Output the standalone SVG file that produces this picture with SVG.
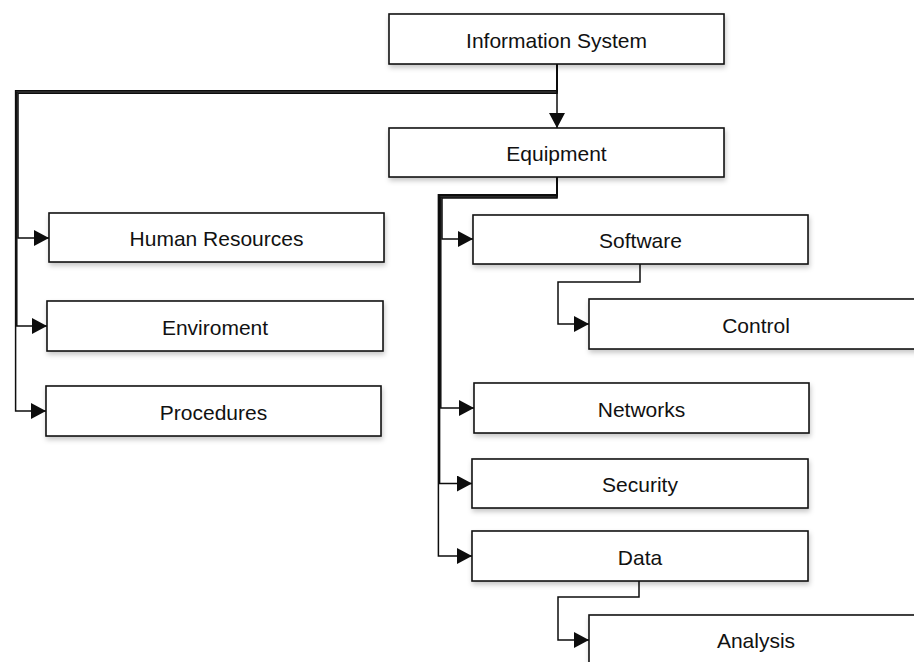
<svg xmlns="http://www.w3.org/2000/svg" width="914" height="662" viewBox="0 0 914 662">
  <style>
    .box { fill: #ffffff; stroke: #151515; stroke-width: 1.6; filter: url(#shadow); }
    .label { font-family: "Liberation Sans", Arial, Helvetica, sans-serif; font-size: 21px; fill: #111111; text-anchor: middle; }
    .link { fill: none; stroke: #0d0d0d; stroke-width: 1.5; stroke-linejoin: miter; }
    .arrow { marker-end: url(#head); }
  </style>
  <defs>
    <filter id="shadow" x="-10%" y="-20%" width="130%" height="160%">
      <feDropShadow dx="1" dy="3" stdDeviation="2.5" flood-color="#000000" flood-opacity="0.22"/>
    </filter>
    <marker id="head" markerUnits="userSpaceOnUse" markerWidth="17" markerHeight="17" refX="15" refY="8" orient="auto">
      <path d="M0,0 L15,8 L0,16 Z" fill="#0d0d0d"/>
    </marker>
  </defs>

  <rect width="914" height="662" fill="#ffffff"/>

  <!-- connectors -->
  <g id="connectors">
    <!-- Information System to Equipment -->
    <path class="link arrow" d="M557,64 L557,128"/>
    <!-- Information System to the left column -->
    <path class="link arrow" d="M557,64 L557,93.2 L18,93.2 L18,238 L49,238"/>
    <path class="link arrow" d="M557,64 L557,92 L16.8,92 L16.8,326 L47,326"/>
    <path class="link arrow" d="M557,64 L557,90.8 L15.6,90.8 L15.6,411 L46,411"/>
    <!-- Equipment to its children -->
    <path class="link arrow" d="M557,177 L557,198 L442,198 L442,239 L473,239"/>
    <path class="link arrow" d="M557,177 L557,196.9 L440.8,196.9 L440.8,408 L474,408"/>
    <path class="link arrow" d="M557,177 L557,195.8 L439.6,195.8 L439.6,483.5 L472,483.5"/>
    <path class="link arrow" d="M557,177 L557,194.7 L438.4,194.7 L438.4,556 L472,556"/>
    <!-- Software to Control -->
    <path class="link arrow" d="M640,264 L640,282 L558,282 L558,324 L589,324"/>
    <!-- Data to Analysis -->
    <path class="link arrow" d="M639,581 L639,597 L558,597 L558,640 L589,640"/>
  </g>

  <g id="information-system">
    <rect class="box" x="389" y="14" width="335" height="50"/>
    <text class="label" x="556.5" y="47.5">Information System</text>
  </g>
  <g id="equipment">
    <rect class="box" x="389" y="128" width="335" height="49"/>
    <text class="label" x="556.5" y="161">Equipment</text>
  </g>
  <g id="human-resources">
    <rect class="box" x="49" y="213" width="335" height="49"/>
    <text class="label" x="216.5" y="246">Human Resources</text>
  </g>
  <g id="enviroment">
    <rect class="box" x="47" y="301" width="336" height="50"/>
    <text class="label" x="215" y="334.5">Enviroment</text>
  </g>
  <g id="procedures">
    <rect class="box" x="46" y="386" width="335" height="50"/>
    <text class="label" x="213.5" y="419.5">Procedures</text>
  </g>
  <g id="software">
    <rect class="box" x="473" y="215" width="335" height="49"/>
    <text class="label" x="640.5" y="248">Software</text>
  </g>
  <g id="control">
    <rect class="box" x="589" y="299" width="334" height="50"/>
    <text class="label" x="756" y="332.5">Control</text>
  </g>
  <g id="networks">
    <rect class="box" x="474" y="383" width="335" height="50"/>
    <text class="label" x="641.5" y="416.5">Networks</text>
  </g>
  <g id="security">
    <rect class="box" x="472" y="459" width="336" height="49"/>
    <text class="label" x="640" y="492">Security</text>
  </g>
  <g id="data">
    <rect class="box" x="472" y="531" width="336" height="50"/>
    <text class="label" x="640" y="564.5">Data</text>
  </g>
  <g id="analysis">
    <rect class="box" x="589" y="615" width="334" height="50"/>
    <text class="label" x="756" y="648">Analysis</text>
  </g>
</svg>
